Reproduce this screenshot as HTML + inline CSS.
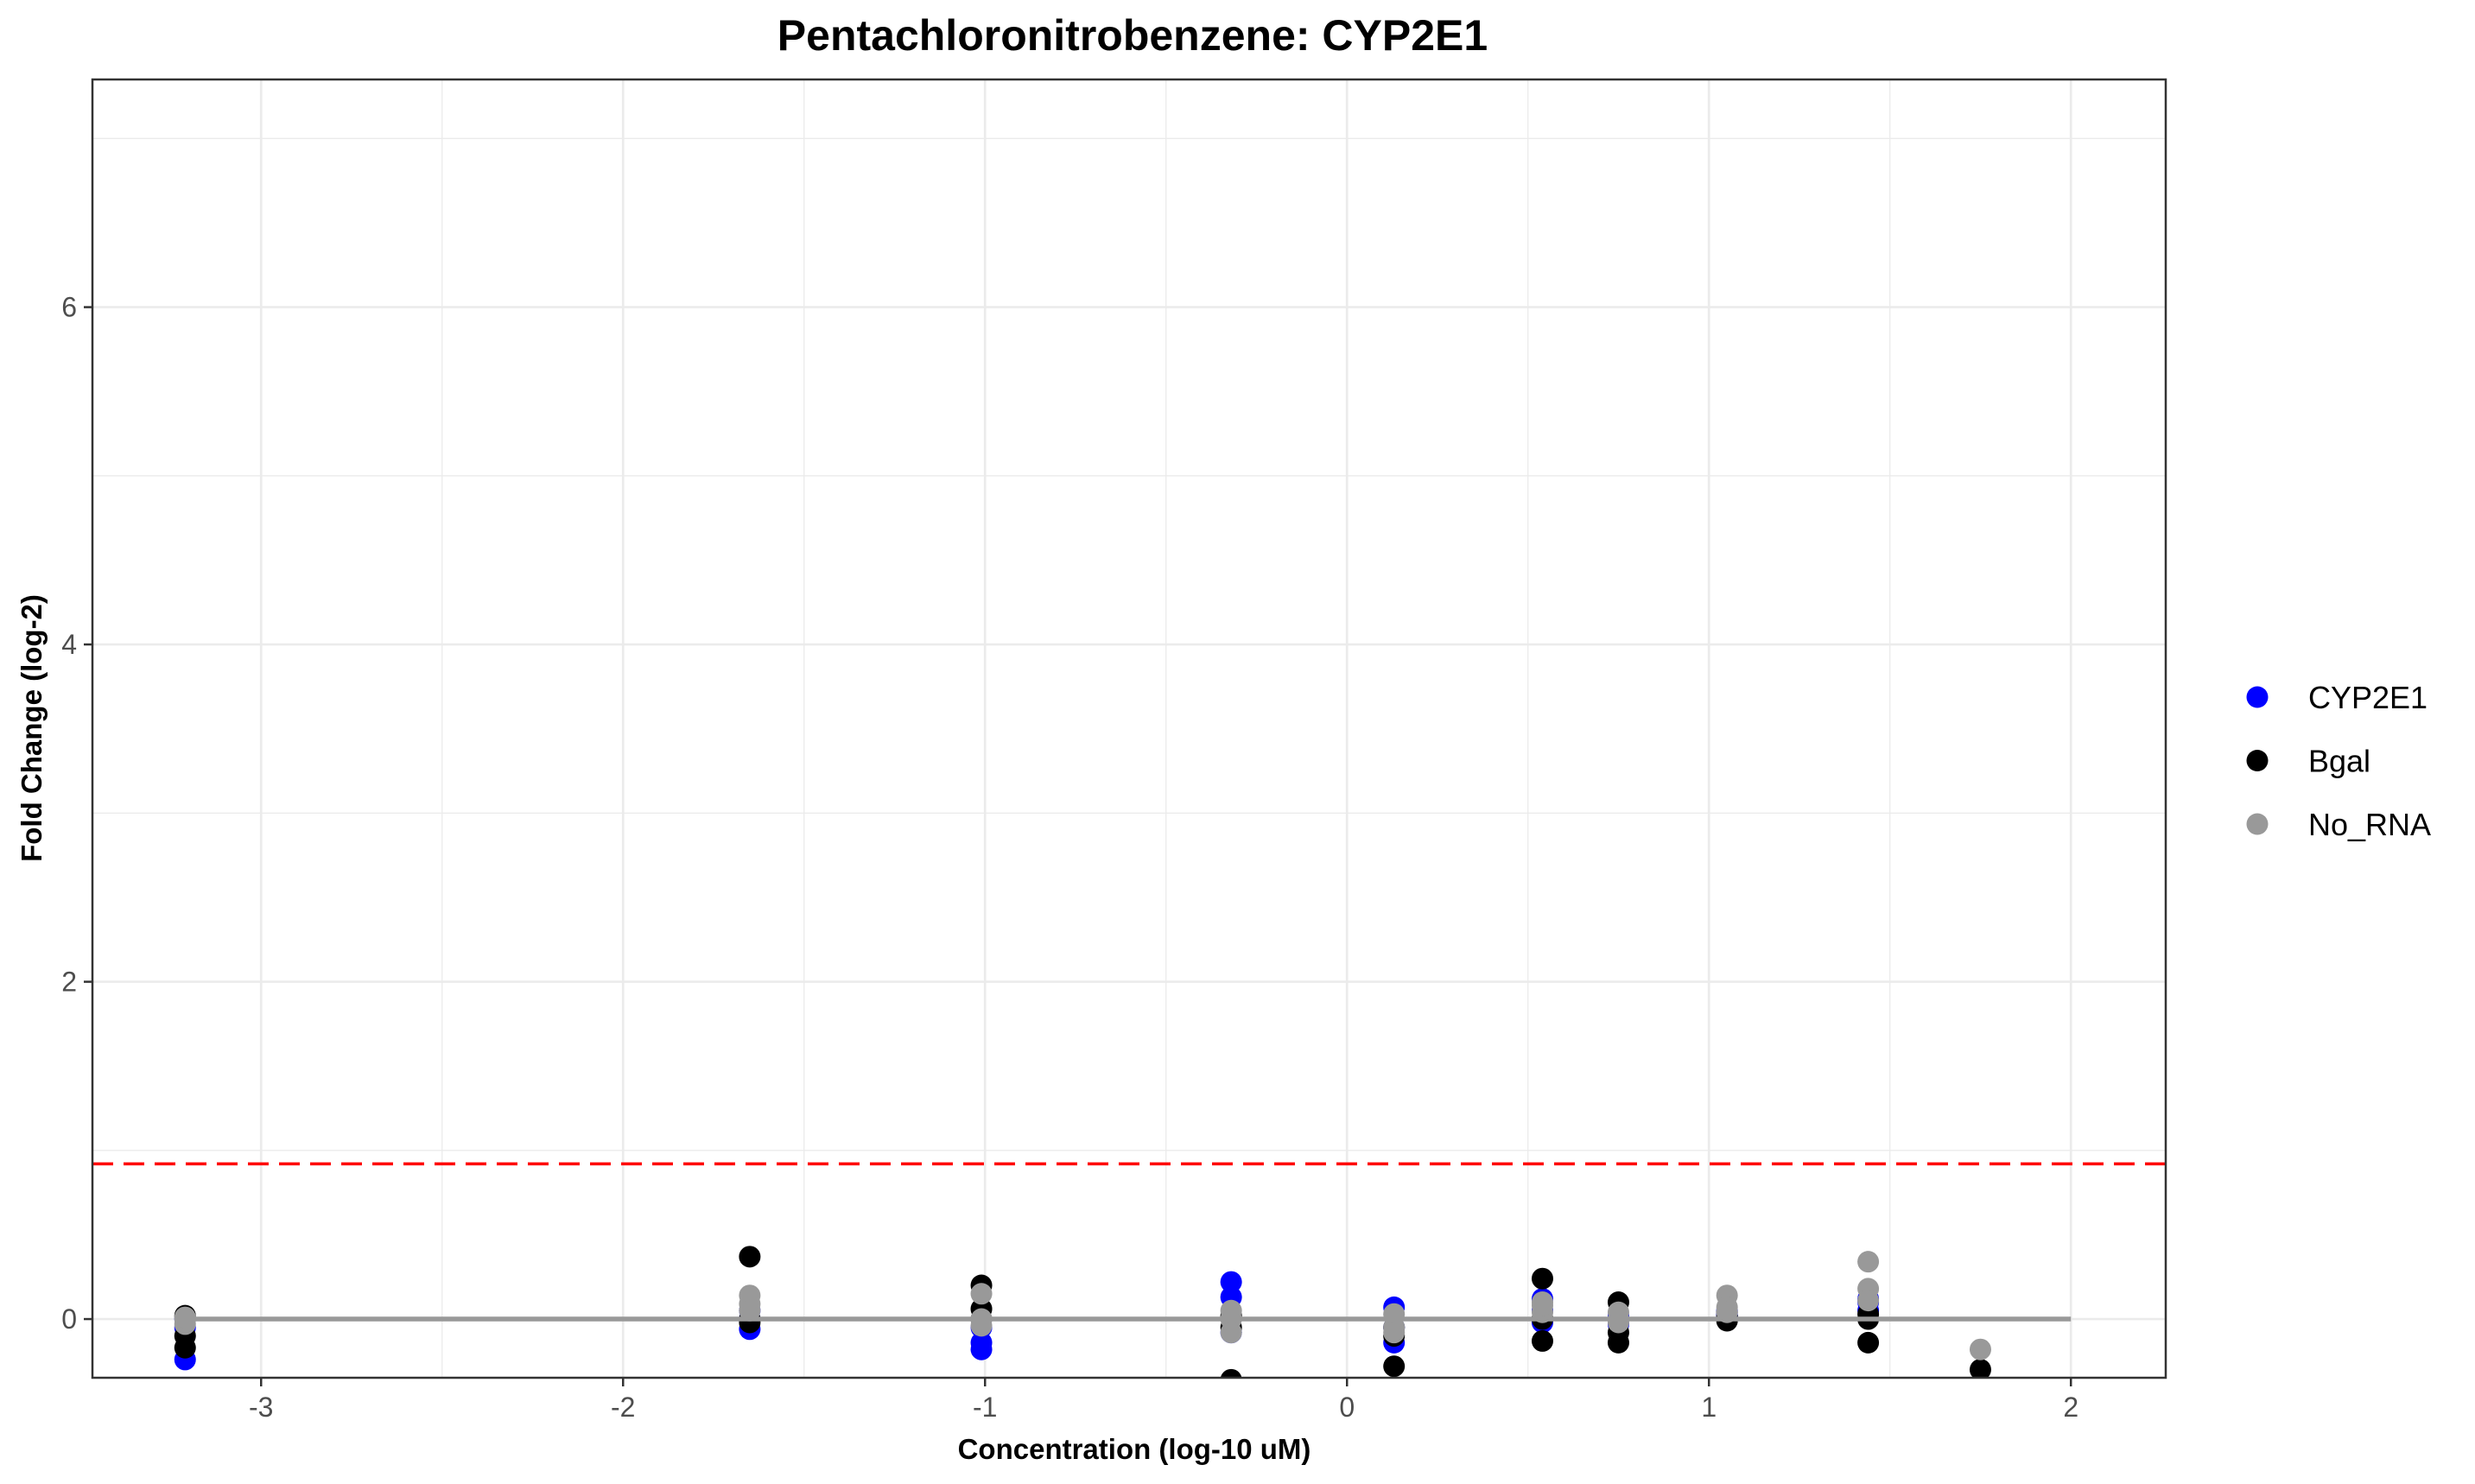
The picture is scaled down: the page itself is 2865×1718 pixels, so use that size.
<!DOCTYPE html>
<html><head><meta charset="utf-8"><style>body{margin:0;background:#fff}svg{display:block}</style></head>
<body>
<svg id="chart" width="2865" height="1718" viewBox="0 0 2865 1718" xmlns="http://www.w3.org/2000/svg" font-family="Liberation Sans, Arial, sans-serif">
<text x="1311" y="58" text-anchor="middle" font-size="50" font-weight="bold">Pentachloronitrobenzene: CYP2E1</text>
<g id="grid"></g>
<g id="marks"></g>
<rect x="107" y="92" width="2400" height="1503" fill="none" stroke="#333" stroke-width="2.5"/>
<g id="axes"></g>
<text x="1313" y="1689" text-anchor="middle" font-size="33" font-weight="bold">Concentration (log-10 uM)</text>
<text transform="translate(48,843) rotate(-90)" text-anchor="middle" font-size="33" font-weight="bold">Fold Change (log-2)</text>
<g id="legend"></g>
</svg>
<script>
const xTicks = [-3,-2,-1,0,1,2];
const yTicks = [0,2,4,6];
const threshold = 0.92;
const cypX = [-3.21,-3.21,-3.21,-1.65,-1.65,-1.65,-1.01,-1.01,-1.01,-0.32,-0.32,-0.32,0.13,0.13,0.13,0.54,0.54,0.54,0.75,0.75,0.75,1.05,1.05,1.05,1.44,1.44,1.44];
const cypY = [-0.24,-0.05,0.0,-0.06,0.0,0.05,-0.14,-0.18,-0.05,0.22,0.13,-0.08,0.07,-0.14,-0.05,0.12,-0.02,0.05,0.0,0.02,-0.03,0.02,0.05,0.03,0.05,0.1,0.12];
const bgalX = [-3.21,-3.21,-3.21,-1.65,-1.65,-1.65,-1.01,-1.01,-1.01,-0.32,-0.32,-0.32,0.13,0.13,0.13,0.54,0.54,0.54,0.75,0.75,0.75,1.05,1.05,1.05,1.44,1.44,1.44,1.75];
const bgalY = [0.02,-0.17,-0.1,0.37,-0.02,0.0,0.2,0.06,0.0,-0.36,0.02,-0.05,-0.28,-0.1,-0.05,0.24,0.0,-0.13,0.1,-0.08,-0.14,-0.01,0.02,0.04,0.03,0.0,-0.14,-0.3];
const noX = [-3.21,-3.21,-3.21,-1.65,-1.65,-1.65,-1.01,-1.01,-1.01,-0.32,-0.32,-0.32,0.13,0.13,0.13,0.54,0.54,0.54,0.75,0.75,0.75,1.05,1.05,1.05,1.44,1.44,1.44,1.75];
const noY = [0.0,-0.03,0.01,0.14,0.09,0.05,0.15,0.0,-0.04,0.05,0.0,-0.08,0.03,-0.05,-0.08,0.1,0.04,0.08,0.04,-0.02,0.0,0.14,0.07,0.04,0.34,0.18,0.11,-0.18];
const seriesNames = ["CYP2E1","Bgal","No_RNA"];
const seriesColors = ["#0000ff","#000000","#999999"];

const NS="http://www.w3.org/2000/svg";
const L=107,R=2507,T=92,B=1595;
const x0=-3.466, x1=2.262, y0=-0.348, y1=7.35;
const sx=v=>L+(v-x0)/(x1-x0)*(R-L);
const sy=v=>B-(v-y0)/(y1-y0)*(B-T);
function mk(tag,attrs,parent){const e=document.createElementNS(NS,tag);for(const k in attrs)e.setAttribute(k,attrs[k]);parent.appendChild(e);return e;}
const grid=document.getElementById('grid'),marks=document.getElementById('marks'),axes=document.getElementById('axes'),legend=document.getElementById('legend');
for(let v=-3.5;v<=2.5;v+=1){if(sx(v)<L||sx(v)>R)continue;const e=mk('line',{x1:sx(v),x2:sx(v),y1:T,y2:B,stroke:'#ebebeb','stroke-width':1.3},grid);

}
for(let v=1;v<=7;v+=2){const e=mk('line',{x1:L,x2:R,y1:sy(v),y2:sy(v),stroke:'#ebebeb','stroke-width':1.3},grid);

}
xTicks.forEach(v=>{const e=mk('line',{x1:sx(v),x2:sx(v),y1:T,y2:B,stroke:'#ebebeb','stroke-width':2.7},grid);


const t=mk('line',{x1:sx(v),x2:sx(v),y1:B,y2:B+10,stroke:'#333','stroke-width':2.5},axes);


const l=mk('text',{x:sx(v),y:B+45,'text-anchor':'middle','font-size':32,fill:'#4d4d4d'},axes);l.textContent=String(v);

});
yTicks.forEach(v=>{const e=mk('line',{x1:L,x2:R,y1:sy(v),y2:sy(v),stroke:'#ebebeb','stroke-width':2.7},grid);


const t=mk('line',{x1:L-10,x2:L,y1:sy(v),y2:sy(v),stroke:'#333','stroke-width':2.5},axes);


const l=mk('text',{x:L-18,y:sy(v)+11,'text-anchor':'end','font-size':32,fill:'#4d4d4d'},axes);l.textContent=v;

});
const th=mk('line',{x1:L,x2:R,y1:sy(threshold),y2:sy(threshold),stroke:'#ff0000','stroke-width':3.5,'stroke-dasharray':'24,12'},grid);


const clip=mk('clipPath',{id:'pc'},document.getElementById('chart'));mk('rect',{x:L,y:T,width:R-L,height:B-T},clip);
marks.setAttribute('clip-path','url(#pc)');
const data=[[cypX,cypY],[bgalX,bgalY],[noX,noY]];
data.forEach((d,i)=>{d[0].forEach((xv,j)=>{const c=mk('circle',{cx:sx(xv),cy:sy(d[1][j]),r:12.5,fill:seriesColors[i]},marks);

});});
const base=mk('line',{x1:sx(-3.21),x2:sx(2),y1:sy(0),y2:sy(0),stroke:'#999999','stroke-width':5.5},marks);


seriesNames.forEach((n,i)=>{const y=807+i*73.5;
const c=mk('circle',{cx:2613,cy:y,r:12.5,fill:seriesColors[i]},legend);


const t=mk('text',{x:2672,y:y+13,'font-size':36,fill:'#000'},legend);t.textContent=n;

});
</script>
</body></html>
